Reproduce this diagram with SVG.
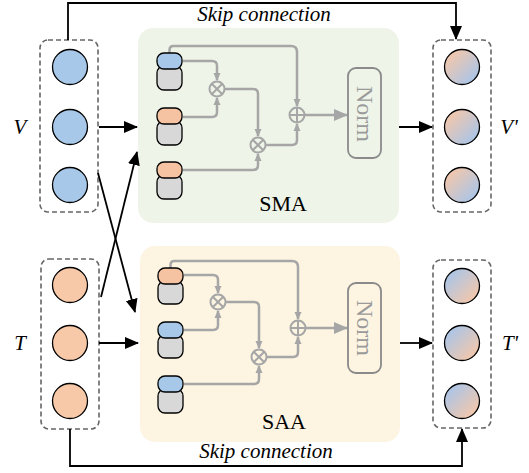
<svg xmlns="http://www.w3.org/2000/svg" width="529" height="473" viewBox="0 0 529 473">
<defs>
<marker id="abig" markerWidth="14" markerHeight="14" refX="13" refY="7" orient="auto" markerUnits="userSpaceOnUse"><path d="M0,1 L14,7 L0,13 Z" fill="#000"/></marker>
<marker id="ag" markerWidth="8" markerHeight="8" refX="7" refY="4" orient="auto" markerUnits="userSpaceOnUse"><path d="M0,0.5 L8,4 L0,7.5 Z" fill="#a6a6a6"/></marker>
<marker id="agbig" markerWidth="14" markerHeight="14" refX="13" refY="7" orient="auto" markerUnits="userSpaceOnUse"><path d="M0,1 L14,7 L0,13 Z" fill="#a6a6a6"/></marker>
<linearGradient id="gOB" x1="0" y1="0" x2="1" y2="1"><stop offset="0.1" stop-color="#f6c7a9"/><stop offset="0.9" stop-color="#a7c5ea"/></linearGradient>
<linearGradient id="gBO" x1="0" y1="0" x2="1" y2="1"><stop offset="0.1" stop-color="#a7c5ea"/><stop offset="0.9" stop-color="#f6c7a9"/></linearGradient>
</defs>
<style>
.dash{fill:none;stroke:#666;stroke-width:1.6;stroke-dasharray:5,3}
.cb{fill:#a7c8e8;stroke:#000;stroke-width:1.3}
.co{fill:#f8c9a8;stroke:#000;stroke-width:1.3}
.pb{fill:#a7c8e8;stroke:#000;stroke-width:1.3}
.po{fill:#f6c3a2;stroke:#000;stroke-width:1.3}
.pg{fill:#d8d8d8;stroke:#000;stroke-width:1.3}
.gl{fill:none;stroke:#a6a6a6;stroke-width:2.5;stroke-linejoin:round}
.op{fill:none;stroke:#a6a6a6;stroke-width:2}
.bl{fill:none;stroke:#000;stroke-width:1.8}
text{font-family:'Liberation Serif','DejaVu Serif',serif}
.lab{font-style:italic;font-size:21px;fill:#000}
.skip{font-style:italic;font-size:21px;fill:#000}
.mod{font-size:22px;fill:#000}
.norm{font-size:24px;fill:#9a9a9a}
</style>
<g id="panel-sma">
<rect x="138" y="28" width="261" height="195" rx="15" fill="#eef5e8"/>
<text class="mod" x="283" y="211" text-anchor="middle">SMA</text>
</g>
<g id="panel-saa">
<rect x="140" y="246" width="260" height="196" rx="15" fill="#fdf5e2"/>
<text class="mod" x="284" y="429" text-anchor="middle">SAA</text>
</g>
<g id="input-v">
<rect class="dash" x="40" y="40" width="58" height="172" rx="8"/>
<circle class="cb" cx="70" cy="67" r="17.5"/>
<circle class="cb" cx="70" cy="127" r="17.5"/>
<circle class="cb" cx="70" cy="185" r="17.5"/>
<text class="lab" x="20" y="134" text-anchor="middle">V</text>
</g>
<g id="input-t">
<rect class="dash" x="41" y="259" width="58" height="170" rx="8"/>
<circle class="co" cx="70" cy="285" r="17.5"/>
<circle class="co" cx="70" cy="343" r="17.5"/>
<circle class="co" cx="70" cy="401" r="17.5"/>
<text class="lab" x="20" y="350" text-anchor="middle">T</text>
</g>
<g id="output-v">
<rect class="dash" x="433" y="40" width="58" height="172" rx="8"/>
<circle cx="462" cy="67" r="17.5" fill="url(#gOB)" stroke="#000" stroke-width="1.3"/>
<circle cx="462" cy="127" r="17.5" fill="url(#gOB)" stroke="#000" stroke-width="1.3"/>
<circle cx="462" cy="185" r="17.5" fill="url(#gOB)" stroke="#000" stroke-width="1.3"/>
<text class="lab" x="509" y="134" text-anchor="middle">V'</text>
</g>
<g id="output-t">
<rect class="dash" x="433" y="260" width="58" height="168" rx="8"/>
<circle cx="462" cy="286" r="17.5" fill="url(#gBO)" stroke="#000" stroke-width="1.3"/>
<circle cx="462" cy="343" r="17.5" fill="url(#gBO)" stroke="#000" stroke-width="1.3"/>
<circle cx="462" cy="401" r="17.5" fill="url(#gBO)" stroke="#000" stroke-width="1.3"/>
<text class="lab" x="510" y="350" text-anchor="middle">T'</text>
</g>
<g id="sma-inner">
<path class="gl" d="M169.5,53 V50 Q169.5,46 173.5,46 H291 Q297,46 297,52 V106" marker-end="url(#ag)"/>
<path class="gl" d="M183,61 H212 Q217,61 217,66 V80" marker-end="url(#ag)"/>
<path class="gl" d="M183,117 H212 Q217,117 217,112 V98" marker-end="url(#ag)"/>
<path class="gl" d="M225,89 H253 Q258,89 258,94 V136" marker-end="url(#ag)"/>
<path class="gl" d="M183,170 H253 Q258,170 258,165 V154" marker-end="url(#ag)"/>
<path class="gl" d="M266,145 H292 Q297,145 297,140 V124" marker-end="url(#ag)"/>
<path class="gl" d="M305,115 H347" marker-end="url(#agbig)"/>
<g class="op"><circle cx="217" cy="89" r="7.5"/><path d="M211.7,83.7 L222.3,94.3 M222.3,83.7 L211.7,94.3"/></g>
<g class="op"><circle cx="258" cy="145" r="7.5"/><path d="M252.7,139.7 L263.3,150.3 M263.3,139.7 L252.7,150.3"/></g>
<g class="op"><circle cx="297" cy="115" r="7.5"/><path d="M297,107.5 V122.5 M289.5,115 H304.5"/></g>
<rect x="348" y="68" width="33" height="90" rx="8" fill="none" stroke="#8a8a8a" stroke-width="1.8"/>
<text class="norm" transform="translate(357,114) rotate(90)" text-anchor="middle">Norm</text>
<rect class="pg" x="157" y="66" width="25" height="24" rx="7"/>
<rect class="pb" x="157" y="53" width="25" height="16" rx="7"/>
<rect class="pg" x="157" y="121" width="25" height="24" rx="7"/>
<rect class="po" x="157" y="108" width="25" height="16" rx="7"/>
<rect class="pg" x="157" y="175" width="25" height="24" rx="7"/>
<rect class="po" x="157" y="162" width="25" height="16" rx="7"/>
</g>
<g id="saa-inner">
<path class="gl" d="M170.5,268 V265 Q170.5,261 174.5,261 H292 Q298,261 298,267 V319" marker-end="url(#ag)"/>
<path class="gl" d="M184,275 H213 Q218,275 218,280 V293" marker-end="url(#ag)"/>
<path class="gl" d="M184,330 H213 Q218,330 218,325 V311" marker-end="url(#ag)"/>
<path class="gl" d="M226,302 H254 Q259,302 259,307 V348" marker-end="url(#ag)"/>
<path class="gl" d="M184,384 H254 Q259,384 259,379 V366" marker-end="url(#ag)"/>
<path class="gl" d="M267,357 H293 Q298,357 298,352 V337" marker-end="url(#ag)"/>
<path class="gl" d="M306,328 H347" marker-end="url(#agbig)"/>
<g class="op"><circle cx="218" cy="302" r="7.5"/><path d="M212.7,296.7 L223.3,307.3 M223.3,296.7 L212.7,307.3"/></g>
<g class="op"><circle cx="259" cy="357" r="7.5"/><path d="M253.7,351.7 L264.3,362.3 M264.3,351.7 L253.7,362.3"/></g>
<g class="op"><circle cx="298" cy="328" r="7.5"/><path d="M298,320.5 V335.5 M290.5,328 H305.5"/></g>
<rect x="348" y="283" width="33" height="90" rx="8" fill="none" stroke="#8a8a8a" stroke-width="1.8"/>
<text class="norm" transform="translate(357,328) rotate(90)" text-anchor="middle">Norm</text>
<rect class="pg" x="158" y="281" width="25" height="23" rx="7"/>
<rect class="po" x="158" y="268" width="25" height="16" rx="7"/>
<rect class="pg" x="158" y="335" width="25" height="23" rx="7"/>
<rect class="pb" x="158" y="322" width="25" height="16" rx="7"/>
<rect class="pg" x="158" y="389" width="25" height="24" rx="7"/>
<rect class="pb" x="158" y="376" width="25" height="16" rx="7"/>
</g>
<g id="connectors">
<path class="bl" d="M68,40 V3 H456 V39" marker-end="url(#abig)"/>
<text class="skip" x="264" y="21" text-anchor="middle">Skip connection</text>
<path class="bl" d="M70,429 V466 H462 V429" marker-end="url(#abig)"/>
<text class="skip" x="266" y="458" text-anchor="middle">Skip connection</text>
<path class="bl" d="M99,127 H137" marker-end="url(#abig)"/>
<path class="bl" d="M99,343 H138" marker-end="url(#abig)"/>
<path class="bl" d="M98,173 L135,312" marker-end="url(#abig)"/>
<path class="bl" d="M101,297 L137,152" marker-end="url(#abig)"/>
<path class="bl" d="M399,127 H432" marker-end="url(#abig)"/>
<path class="bl" d="M400,343 H432" marker-end="url(#abig)"/>
</g>
</svg>
